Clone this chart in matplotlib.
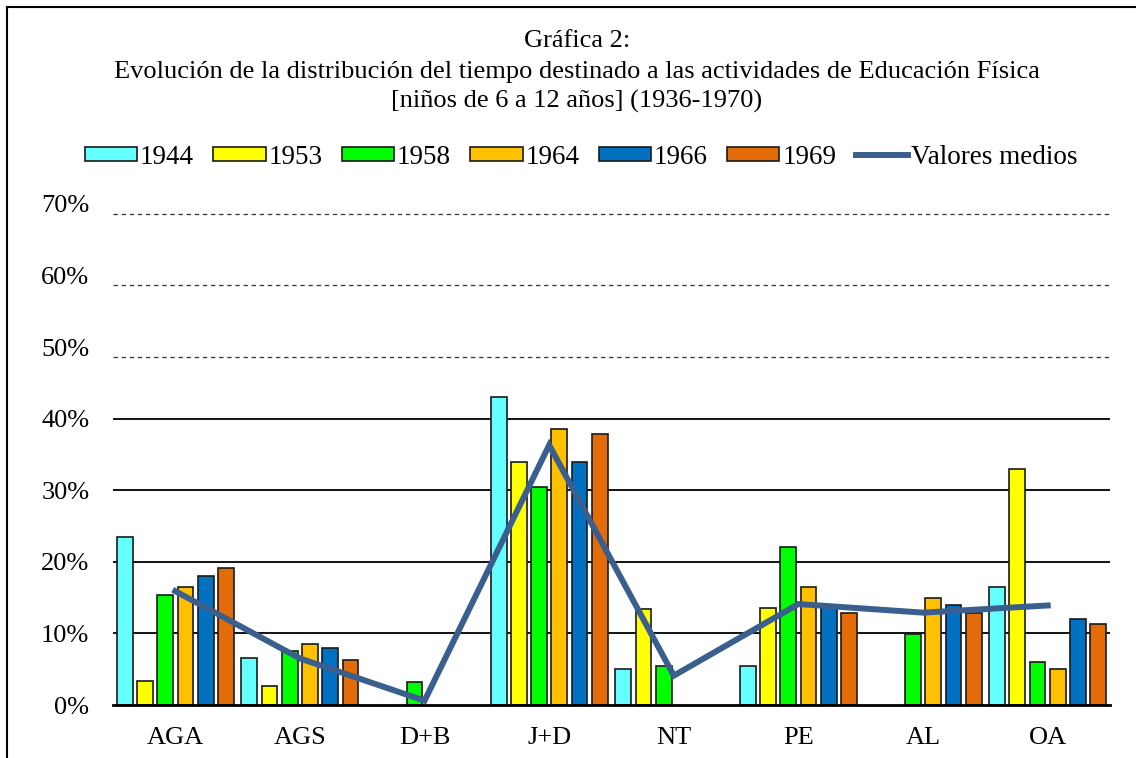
import numpy as np
import matplotlib
matplotlib.use("Agg")
import matplotlib.pyplot as plt
from matplotlib.patches import Rectangle

plt.rcParams['font.family'] = ['Liberation Serif', 'DejaVu Serif']

categories = ["AGA", "AGS", "D+B", "J+D", "NT", "PE", "AL", "OA"]
years = ["1944", "1953", "1958", "1964", "1966", "1969"]

v1944 = [23.5, 6.5, 0.0, 43.0, 5.0, 5.5, 0.0, 16.5]
v1953 = [3.3, 2.6, 0.0, 34.0, 13.4, 13.5, 0.0, 33.0]
v1958 = [15.3, 7.5, 3.2, 30.4, 5.4, 22.0, 9.9, 6.0]
v1964 = [16.5, 8.5, 0.0, 38.5, 0.0, 16.5, 15.0, 5.0]
v1966 = [18.0, 8.0, 0.0, 34.0, 0.0, 13.8, 14.0, 12.0]
v1969 = [19.1, 6.3, 0.0, 37.9, 0.0, 12.9, 12.8, 11.3]
medios = [15.9, 6.5, 0.6, 36.3, 4.1, 14.1, 12.9, 13.9]

series = [v1944, v1953, v1958, v1964, v1966, v1969]
colors = ["#66FFFF", "#FFFF00", "#00FF00", "#FFC000", "#0070C0", "#E36C09"]
line_color = "#3A5F8F"

fig = plt.figure(figsize=(11.36, 7.58), dpi=100)
ax = fig.add_axes([113 / 1136, 1 - 705 / 758, 997 / 1136, 501.2 / 758])

x = np.arange(len(categories))
pitch = 0.1624
width = 0.127

# gridlines: solid up to 40%, dashed above (dashed ones sit a bit low in the original)
for g in [10, 20, 30, 40]:
    ax.axhline(g / 100, color="black", lw=1.3, zorder=1)
for g in [50, 60, 70]:
    ax.axhline(g / 100 - 0.014, color="#333333", lw=0.9, ls=(0, (3.5, 3)), zorder=1)

handles = []
for i, (vals, c) in enumerate(zip(series, colors)):
    vals = np.array(vals) / 100
    keep = vals > 0  # empty categories have no bar at all
    b = ax.bar((x + (i - 2.5) * pitch)[keep], vals[keep], width, color=c,
               edgecolor="#1a1a1a", linewidth=1.2, label=years[i], zorder=2)
    handles.append(b)

ln, = ax.plot(x, np.array(medios) / 100, color=line_color, lw=4.3, label="Valores medios",
              zorder=3, solid_joinstyle="miter")
handles.append(ln)

ax.set_xlim(-0.5, 7.5)
ax.set_ylim(0, 0.7)
ax.set_yticks(np.arange(0, 0.71, 0.1))
ax.set_yticklabels([f"{int(round(t * 100))}%" for t in np.arange(0, 0.71, 0.1)])
ax.set_xticks(x)
ax.set_xticklabels(categories)
ax.tick_params(axis="y", length=0, pad=17, labelsize=19)
ax.tick_params(axis="x", length=0, pad=16, labelsize=19)
for s in ["top", "right", "left"]:
    ax.spines[s].set_visible(False)
ax.spines["bottom"].set_linewidth(2)
ax.spines["bottom"].set_zorder(4)

title_lines = ["Gráfica 2:",
               "Evolución de la distribución del tiempo destinado a las actividades de Educación Física",
               "[niños de 6 a 12 años] (1936-1970)"]
for t, yp in zip(title_lines, [41, 72, 101]):
    fig.text(577 / 1136, 1 - yp / 758, t, ha="center", va="center", fontsize=19)

fig.legend(handles=handles, loc="center", bbox_to_anchor=(581 / 1136, 1 - 157 / 758), ncol=7,
           frameon=False, fontsize=19.5, handlelength=1.93, handleheight=0.45,
           handletextpad=0.1, columnspacing=0.72, borderaxespad=0)

# outer frame (cut off on the right and bottom)
fig.patches.append(Rectangle((7 / 1136, -0.05), 1.1, 1 - 7 / 758 + 0.05,
                             transform=fig.transFigure, fill=False,
                             edgecolor="black", lw=1.5))

fig.savefig("out.png", dpi=100)
